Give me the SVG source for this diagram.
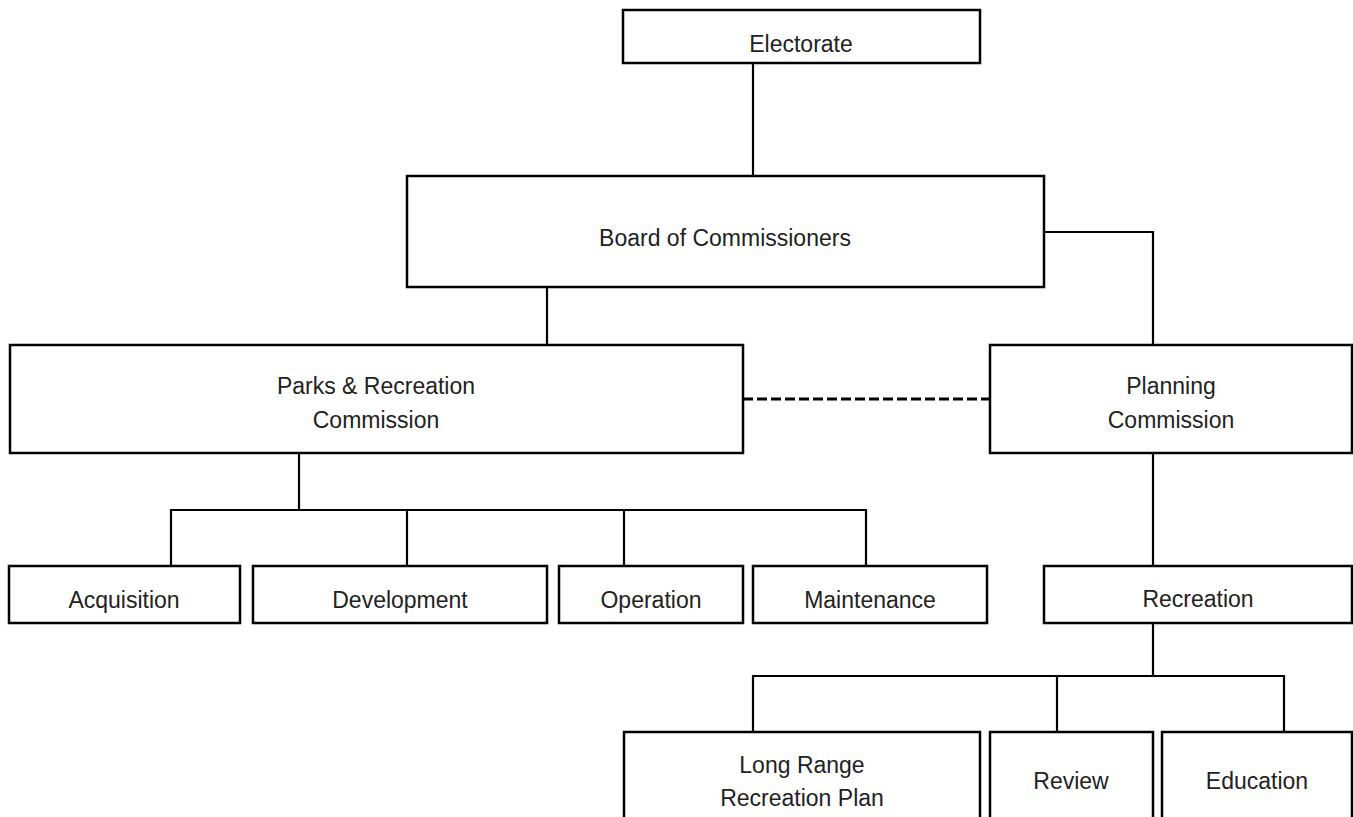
<svg xmlns="http://www.w3.org/2000/svg" width="1353" height="817" viewBox="0 0 1353 817">
<style>
.box{fill:#fff;stroke:#000;stroke-width:2.5}
.ln{fill:none;stroke:#000;stroke-width:2.2}
.dash{fill:none;stroke:#000;stroke-width:3;stroke-dasharray:10 4}
text{font-family:"Liberation Sans",Arial,sans-serif;font-size:23px;fill:#222;text-anchor:middle}
</style>
<rect width="1353" height="817" fill="#fff"/>
<g id="connectors">
<path class="ln" d="M753 63V176"/>
<path class="ln" d="M1044 232H1153V345"/>
<path class="ln" d="M547 287V345"/>
<path class="dash" d="M743 399H990"/>
<path class="ln" d="M299 453V510"/>
<path class="ln" d="M171 566V510H866V566"/>
<path class="ln" d="M407 510V566"/>
<path class="ln" d="M624 510V566"/>
<path class="ln" d="M1153 453V566"/>
<path class="ln" d="M1153 623V676"/>
<path class="ln" d="M753 732V676H1284V732"/>
<path class="ln" d="M1057 676V732"/>
</g>
<g id="electorate"><rect class="box" x="623" y="10" width="357" height="53"/><text x="801" y="52">Electorate</text></g>
<g id="board"><rect class="box" x="407" y="176" width="637" height="111"/><text x="725" y="246">Board of Commissioners</text></g>
<g id="parks"><rect class="box" x="10" y="345" width="733" height="108"/><text x="376" y="394">Parks &amp; Recreation</text><text x="376" y="428">Commission</text></g>
<g id="planning"><rect class="box" x="990" y="345" width="362" height="108"/><text x="1171" y="394">Planning</text><text x="1171" y="428">Commission</text></g>
<g id="acquisition"><rect class="box" x="9" y="566" width="231" height="57"/><text x="124" y="608">Acquisition</text></g>
<g id="development"><rect class="box" x="253" y="566" width="294" height="57"/><text x="400" y="608">Development</text></g>
<g id="operation"><rect class="box" x="559" y="566" width="184" height="57"/><text x="651" y="608">Operation</text></g>
<g id="maintenance"><rect class="box" x="753" y="566" width="234" height="57"/><text x="870" y="608">Maintenance</text></g>
<g id="recreation"><rect class="box" x="1044" y="566" width="308" height="57"/><text x="1198" y="607">Recreation</text></g>
<g id="longrange"><rect class="box" x="624" y="732" width="356" height="100"/><text x="802" y="773">Long Range</text><text x="802" y="806">Recreation Plan</text></g>
<g id="review"><rect class="box" x="990" y="732" width="163" height="100"/><text x="1071" y="789">Review</text></g>
<g id="education"><rect class="box" x="1162" y="732" width="190" height="100"/><text x="1257" y="789">Education</text></g>
</svg>
